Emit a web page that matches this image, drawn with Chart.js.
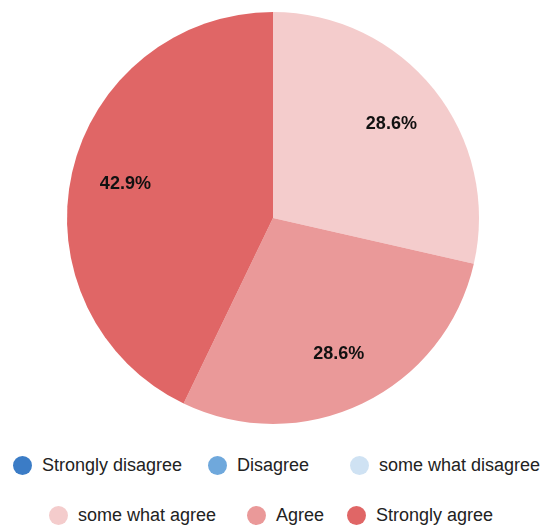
<!DOCTYPE html>
<html>
<head>
<meta charset="utf-8">
<script src="https://cdn.jsdelivr.net/npm/chart.js@4/dist/chart.umd.min.js"></script>
<style>
  html, body { margin: 0; padding: 0; background: #ffffff; }
  #wrap { position: relative; width: 546px; height: 529px; overflow: hidden; font-family: Arial, "Liberation Sans", sans-serif; }
  #cv { position: absolute; left: 0; top: 0; }
  .row { position: absolute; left: 0; display: grid; align-items: center; white-space: nowrap; }
  .item { display: flex; align-items: center; font-size: 18px; color: #222; }
  .dot { width: 19px; height: 19px; border-radius: 50%; margin-right: 10px; flex: none; }
</style>
</head>
<body>
<div id="wrap">
  <canvas id="cv" width="546" height="440"></canvas>
  <div id="row1" class="row"></div>
  <div id="row2" class="row"></div>
</div>
<script>
// ---- data ----
const categories = ["Strongly disagree", "Disagree", "some what disagree", "some what agree", "Agree", "Strongly agree"];
const responseCounts = [0, 0, 0, 2, 2, 3];
const sliceColors = ["#3b7cc6", "#6fa8dc", "#cfe2f3", "#f4cccc", "#ea9999", "#e06666"];

const pctLabels = {
  id: 'pctLabels',
  afterDatasetsDraw(chart) {
    const ctx = chart.ctx;
    const meta = chart.getDatasetMeta(0);
    const data = chart.data.datasets[0].data;
    const total = data.reduce((a, b) => a + b, 0);
    ctx.save();
    ctx.font = 'bold 18px Arial, "Liberation Sans", sans-serif';
    ctx.fillStyle = '#111';
    ctx.textAlign = 'center';
    ctx.textBaseline = 'middle';
    meta.data.forEach((arc, i) => {
      if (!data[i]) return;
      const p = arc.getProps(['x', 'y', 'startAngle', 'endAngle', 'outerRadius'], true);
      const mid = (p.startAngle + p.endAngle) / 2;
      const r = p.outerRadius * 0.735;
      const txt = (data[i] / total * 100).toFixed(1) + '%';
      ctx.fillText(txt, p.x + Math.cos(mid) * r, p.y + Math.sin(mid) * r);
    });
    ctx.restore();
  }
};

const chart = new Chart(document.getElementById('cv'), {
  type: 'pie',
  data: {
    labels: categories,
    datasets: [{
      data: responseCounts,
      backgroundColor: sliceColors,
      borderWidth: 0,
      hoverOffset: 0
    }]
  },
  options: {
    responsive: false,
    animation: false,
    layout: { padding: { left: 67, right: 67, top: 12, bottom: 16 } },
    plugins: {
      legend: { display: false },
      tooltip: { enabled: false }
    }
  },
  plugins: [pctLabels]
});

// HTML legend built from the chart's own legend items
const items = chart.options.plugins.legend.labels.generateLabels(chart);
function buildRow(el, list, left, top, cols) {
  el.style.left = left + 'px';
  el.style.top = top + 'px';
  el.style.gridTemplateColumns = cols;
  list.forEach(it => {
    const d = document.createElement('div');
    d.className = 'item';
    const dot = document.createElement('span');
    dot.className = 'dot';
    dot.style.background = it.fillStyle;
    const t = document.createElement('span');
    t.textContent = it.text;
    d.appendChild(dot); d.appendChild(t);
    el.appendChild(d);
  });
}
buildRow(document.getElementById('row1'), items.slice(0, 3), 13, 455, '195px 142px auto');
buildRow(document.getElementById('row2'), items.slice(3, 6), 49, 505, '198px 100px auto');
</script>
</body>
</html>
